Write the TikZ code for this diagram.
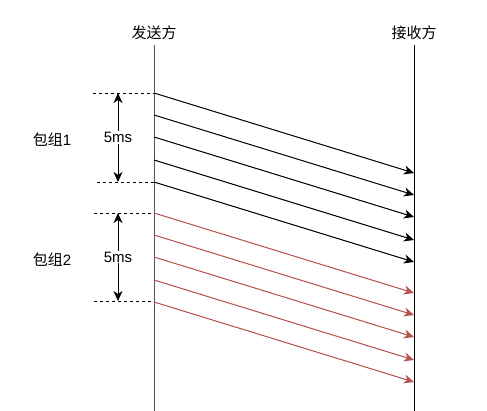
\documentclass[tikz,border=0pt]{standalone}
\usepackage{fontspec}
\setmainfont{Noto Sans CJK SC}
\newfontfamily\latfont{Liberation Sans}
\usetikzlibrary{arrows.meta}
\definecolor{redline}{HTML}{B85450}
\definecolor{lifegray}{HTML}{555555}
\tikzset{
  lbl/.style={font=\fontsize{15}{17}\selectfont, inner sep=1pt},
  msg/.style={line width=1pt, -{Stealth[length=10pt,width=9pt,inset=3pt]}},
  msgred/.style={msg, draw=redline},
  life/.style={line width=1pt},
  guide/.style={line width=0.8pt, dash pattern=on 3pt off 3pt},
  span/.style={line width=1pt, {Stealth[length=10pt,width=9pt,inset=3pt]}-{Stealth[length=10pt,width=9pt,inset=3pt]}},
}
\begin{document}
\begin{tikzpicture}[x=1pt,y=-1pt]
\useasboundingbox (0,0) rectangle (487,411);
% headers
\node[lbl] (s) at (154,33) {发送方};
\node[lbl] (r) at (414,33) {接收方};
\coordinate (stop) at (154,45);
\coordinate (rtop) at (414,45);
\coordinate (sbot) at (154,411);
\coordinate (rbot) at (414,411);
\draw[life, draw=lifegray] (stop) -- (sbot);
\draw[life] (rtop) -- (rbot);
% group 1 messages
\foreach \i/\y in {1/93,2/115,3/137,4/160,5/182}{
  \coordinate (a\i) at (154,\y);
  \coordinate (b\i) at (414,\y+80);
  \draw[msg] (a\i) -- (b\i);
}
% group 2 messages
\foreach \i/\y in {6/213,7/235,8/257,9/280,10/302}{
  \coordinate (a\i) at (154,\y);
  \coordinate (b\i) at (414,\y+80);
  \draw[msgred] (a\i) -- (b\i);
}
% guides group 1
\coordinate (g1a) at (93,93);
\coordinate (g1b) at (97,182);
\draw[guide] (g1a) -- (a1);
\draw[guide] (g1b) -- (a5);
\coordinate (t1) at (118,93);
\coordinate (u1) at (118,182);
\draw[span] (t1) -- node[lbl, fill=white] (ms1) {\latfont 5ms} (u1);
\node[lbl] (p1) at (52,140) {包组\latfont 1};
% guides group 2
\coordinate (g2a) at (94,213);
\coordinate (g2b) at (94,301);
\coordinate (c2a) at (154,213);
\coordinate (c2b) at (154,301);
\draw[guide] (g2a) -- (c2a);
\draw[guide] (g2b) -- (c2b);
\coordinate (t2) at (118,213);
\coordinate (u2) at (118,301);
\draw[span] (t2) -- node[lbl, fill=white] (ms2) {\latfont 5ms} (u2);
\node[lbl] (p2) at (52,260) {包组\latfont 2};
\end{tikzpicture}
\end{document}
